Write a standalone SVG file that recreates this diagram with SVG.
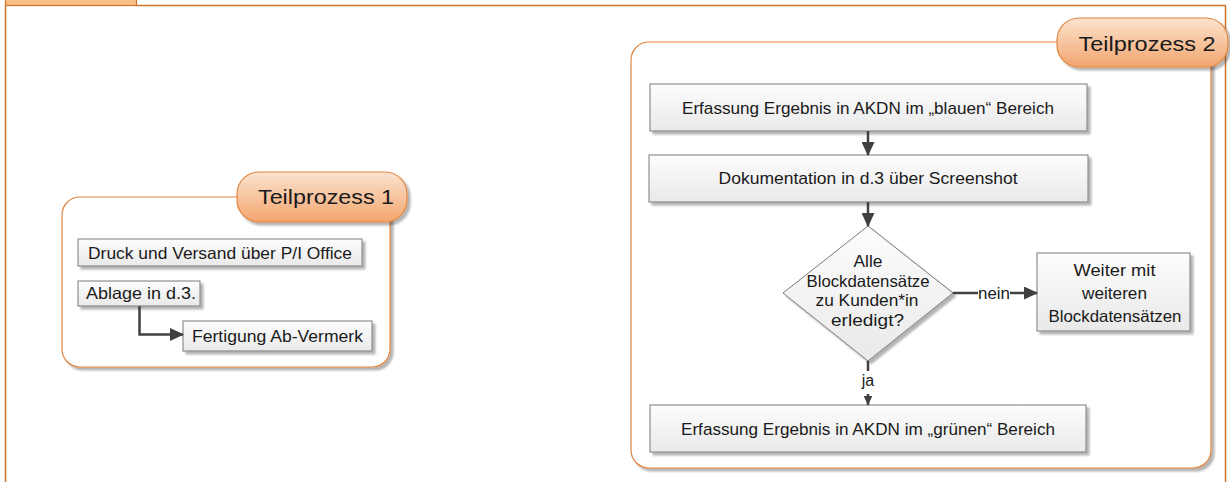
<svg xmlns="http://www.w3.org/2000/svg" width="1230" height="482" viewBox="0 0 1230 482">
<defs>
<linearGradient id="boxg" x1="0" y1="0" x2="0" y2="1"><stop offset="0" stop-color="#fdfdfd"/><stop offset="1" stop-color="#e9e9e9"/></linearGradient>
<linearGradient id="tabg" x1="0" y1="0" x2="0" y2="1"><stop offset="0" stop-color="#fce3cf"/><stop offset="1" stop-color="#f2a56e"/></linearGradient>
<filter id="sh" x="-10%" y="-10%" width="130%" height="140%"><feGaussianBlur in="SourceAlpha" stdDeviation="1.2"/><feOffset dx="2.5" dy="2.5" result="b"/><feComponentTransfer><feFuncA type="linear" slope="0.3"/></feComponentTransfer><feMerge><feMergeNode/><feMergeNode in="SourceGraphic"/></feMerge></filter>
<marker id="arr" viewBox="0 0 14 13" refX="13" refY="6.5" markerWidth="14" markerHeight="13" markerUnits="userSpaceOnUse" orient="auto"><path d="M0,0 L14,6.5 L0,13 Z" fill="#404040"/></marker>
<marker id="arrs" viewBox="0 0 10 9" refX="9.5" refY="4.5" markerWidth="10" markerHeight="9" markerUnits="userSpaceOnUse" orient="auto"><path d="M0,0 L10,4.5 L0,9 Z" fill="#404040"/></marker>
</defs>
<style>
.frame{fill:none;stroke:#d2742c;stroke-width:1.5}
.cont{fill:#fff;stroke:#e0843f;stroke-width:1.2}
.tab{fill:url(#tabg);stroke:#e0843f;stroke-width:1.2}
.box{fill:url(#boxg);stroke:#7a7a7a;stroke-width:1}
.t{font-family:"Liberation Sans",Arial,sans-serif;fill:#1a1a1a;text-anchor:middle}
.con{fill:none;stroke:#404040;stroke-width:2.5}
</style>
<rect width="1230" height="482" fill="#fff"/>
<g id="frame">
<rect x="5.5" y="-2" width="131" height="7.5" fill="#fbc08a" stroke="#d2742c" stroke-width="1.2"/>
<path class="frame" d="M5.5,5.5 V482 M136.5,5.5 H1225.5 V482"/>
</g>
<g id="teilprozess1">
<rect class="cont" x="62" y="197" width="328" height="170" rx="18" filter="url(#sh)"/>
<rect class="tab" x="237" y="172" width="170" height="50" rx="22" filter="url(#sh)"/>
<text class="t" x="326" y="204" font-size="21" textLength="136" lengthAdjust="spacingAndGlyphs">Teilprozess 1</text>
</g>
<g id="tp1-druck">
<rect class="box" x="78" y="239" width="284" height="27" filter="url(#sh)"/>
<text class="t" x="220" y="258.5" font-size="16.5" textLength="264" lengthAdjust="spacingAndGlyphs">Druck und Versand über P/I Office</text>
</g>
<g id="tp1-ablage">
<rect class="box" x="78" y="281" width="122" height="25" filter="url(#sh)"/>
<text class="t" x="141" y="299" font-size="16.5" textLength="110" lengthAdjust="spacingAndGlyphs">Ablage in d.3.</text>
</g>
<g id="tp1-fertigung">
<rect class="box" x="183" y="321" width="189" height="30" filter="url(#sh)"/>
<text class="t" x="277.5" y="341.5" font-size="16.5" textLength="171" lengthAdjust="spacingAndGlyphs">Fertigung Ab-Vermerk</text>
</g>
<g id="teilprozess2">
<rect class="cont" x="631" y="42" width="580" height="426" rx="18" filter="url(#sh)"/>
<rect class="tab" x="1057" y="18" width="171" height="49" rx="22" filter="url(#sh)"/>
<text class="t" x="1147" y="51" font-size="21" textLength="137" lengthAdjust="spacingAndGlyphs">Teilprozess 2</text>
</g>
<g id="tp2-blau">
<rect class="box" x="650" y="84" width="437" height="47" filter="url(#sh)"/>
<text class="t" x="868" y="113.5" font-size="17" textLength="372" lengthAdjust="spacingAndGlyphs">Erfassung Ergebnis in AKDN im „blauen“ Bereich</text>
</g>
<g id="tp2-doku">
<rect class="box" x="649" y="155" width="439" height="47" filter="url(#sh)"/>
<text class="t" x="868" y="183.5" font-size="17" textLength="299" lengthAdjust="spacingAndGlyphs">Dokumentation in d.3 über Screenshot</text>
</g>
<g id="tp2-entscheidung">
<polygon points="868,226 953,293 868,361 783,293" fill="url(#boxg)" stroke="#7a7a7a" stroke-width="1" filter="url(#sh)"/>
<text class="t" x="868" y="267" font-size="16.5" textLength="29" lengthAdjust="spacingAndGlyphs">Alle</text>
<text class="t" x="868" y="286.5" font-size="16.5" textLength="123" lengthAdjust="spacingAndGlyphs">Blockdatensätze</text>
<text class="t" x="867" y="306" font-size="16.5" textLength="103" lengthAdjust="spacingAndGlyphs">zu Kunden*in</text>
<text class="t" x="867.5" y="325.5" font-size="16.5" textLength="73" lengthAdjust="spacingAndGlyphs">erledigt?</text>
</g>
<g id="tp2-weiter">
<rect class="box" x="1037" y="253" width="153" height="78" filter="url(#sh)"/>
<text class="t" x="1114.5" y="276" font-size="16.5" textLength="82" lengthAdjust="spacingAndGlyphs">Weiter mit</text>
<text class="t" x="1114.5" y="298.5" font-size="16.5" textLength="65" lengthAdjust="spacingAndGlyphs">weiteren</text>
<text class="t" x="1115" y="321.5" font-size="16.5" textLength="133" lengthAdjust="spacingAndGlyphs">Blockdatensätzen</text>
</g>
<g id="tp2-gruen">
<rect class="box" x="650" y="405" width="436" height="47" filter="url(#sh)"/>
<text class="t" x="868" y="434.5" font-size="17" textLength="374" lengthAdjust="spacingAndGlyphs">Erfassung Ergebnis in AKDN im „grünen“ Bereich</text>
</g>
<g id="connectors">
<path class="con" d="M139.5,306 V334.5 H183" marker-end="url(#arr)"/>
<path class="con" d="M868,131 V155" marker-end="url(#arr)"/>
<path class="con" d="M868,202 V226" marker-end="url(#arr)"/>
<path class="con" d="M953,293 H978 M1010,293 H1037" marker-end="url(#arr)"/>
<text class="t" x="994" y="298.5" font-size="16" textLength="32" lengthAdjust="spacingAndGlyphs">nein</text>
<path class="con" d="M868,361 V371 M868,394 V405" marker-end="url(#arrs)"/>
<text class="t" x="868" y="386" font-size="16">ja</text>
</g>
</svg>
